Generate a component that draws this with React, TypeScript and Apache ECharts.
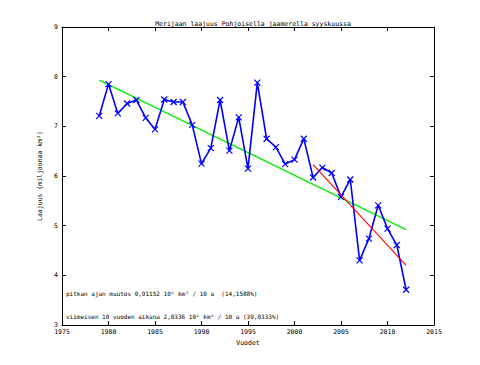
import React, { useEffect, useRef } from "react";
import * as echarts from "echarts";

const years = [1979,1980,1981,1982,1983,1984,1985,1986,1987,1988,1989,1990,1991,1992,1993,1994,1995,1996,1997,1998,1999,2000,2001,2002,2003,2004,2005,2006,2007,2008,2009,2010,2011,2012];
const extent = [7.21,7.85,7.26,7.46,7.53,7.17,6.94,7.54,7.49,7.49,7.03,6.25,6.56,7.53,6.51,7.18,6.15,7.88,6.75,6.58,6.24,6.33,6.75,5.97,6.17,6.06,5.58,5.93,4.30,4.74,5.41,4.94,4.61,3.71];
const longTrend = [[1979, 7.93], [2012, 4.92]];
const recentTrend = [[2002, 6.23], [2012, 4.20]];
const titleText = "Merijaan laajuus Pohjoisella jaamerella syyskuussa";
const note1 = "pitkan ajan muutos 0,91152 10⁶ km² / 10 a  (14,1588%)";
const note2 = "viimeisen 10 vuoden aikana 2,0336 10⁶ km² / 10 a (39,0333%)";

const FONT = "DejaVu Sans Mono";

export default function App() {
  const ref = useRef<HTMLDivElement>(null);
  useEffect(() => {
    const chart = echarts.init(ref.current!, null, { renderer: "svg" });
    const axisCommon = {
      axisLine: { show: true, onZero: false, lineStyle: { color: "#000", width: 1 } },
      axisTick: { show: true, inside: true, length: 4, lineStyle: { color: "#000" } },
      splitLine: { show: false },
    };
    chart.setOption({
      animation: false,
      backgroundColor: "#fff",
      title: {
        text: titleText,
        left: 248,
        textAlign: "center",
        top: 15,
        textStyle: { fontFamily: FONT, fontSize: 6.5, fontWeight: "normal", color: "#000" },
      },
      grid: { left: 62, right: 46, top: 27, bottom: 40 },
      xAxis: [
        {
          type: "value", min: 1975, max: 2015, interval: 5, position: "bottom",
          name: "Vuodet", nameLocation: "middle", nameGap: 12,
          nameTextStyle: { fontFamily: FONT, fontSize: 6.5, color: "#000" },
          axisLabel: { fontFamily: FONT, fontSize: 6.5, color: "#000", margin: 3, formatter: (v: number) => String(v) },
          ...axisCommon,
        },
        {
          type: "value", min: 1975, max: 2015, interval: 5, position: "top",
          axisLabel: { show: false },
          ...axisCommon,
        },
      ],
      yAxis: [
        {
          type: "value", min: 3, max: 9, interval: 1, position: "left",
          name: "Laajuus (miljoonaa km²)", nameLocation: "middle", nameGap: 17, nameRotate: 90,
          nameTextStyle: { fontFamily: FONT, fontSize: 6.5, color: "#000" },
          axisLabel: { fontFamily: FONT, fontSize: 6.5, color: "#000", margin: 4 },
          ...axisCommon,
        },
        {
          type: "value", min: 3, max: 9, interval: 1, position: "right",
          axisLabel: { show: false },
          ...axisCommon,
        },
      ],
      series: [
        {
          type: "line",
          data: years.map((y, i) => [y, extent[i]]),
          lineStyle: { color: "#0000ff", width: 1.6 },
          symbol: "path://M0 0L10 10M10 0L0 10",
          symbolSize: 6,
          showSymbol: true,
          itemStyle: { color: "none", borderColor: "#0000ff", borderWidth: 1.2 },
          z: 3,
        },
        {
          type: "line",
          data: longTrend,
          lineStyle: { color: "#00ee00", width: 1.3 },
          symbol: "none",
          z: 2,
        },
        {
          type: "line",
          data: recentTrend,
          lineStyle: { color: "#ff0000", width: 1.1 },
          symbol: "none",
          z: 4,
        },
      ],
      graphic: [
        {
          type: "text", left: 66, top: 290,
          style: { text: note1, font: `6px ${FONT}`, fill: "#000" },
        },
        {
          type: "text", left: 66, top: 313,
          style: { text: note2, font: `6px ${FONT}`, fill: "#000" },
        },
      ],
    });
    return () => chart.dispose();
  }, []);
  return (
    <div
      ref={ref}
      style={{ position: "fixed", left: 0, top: 0, width: 480, height: 365, background: "#fff" }}
    />
  );
}
